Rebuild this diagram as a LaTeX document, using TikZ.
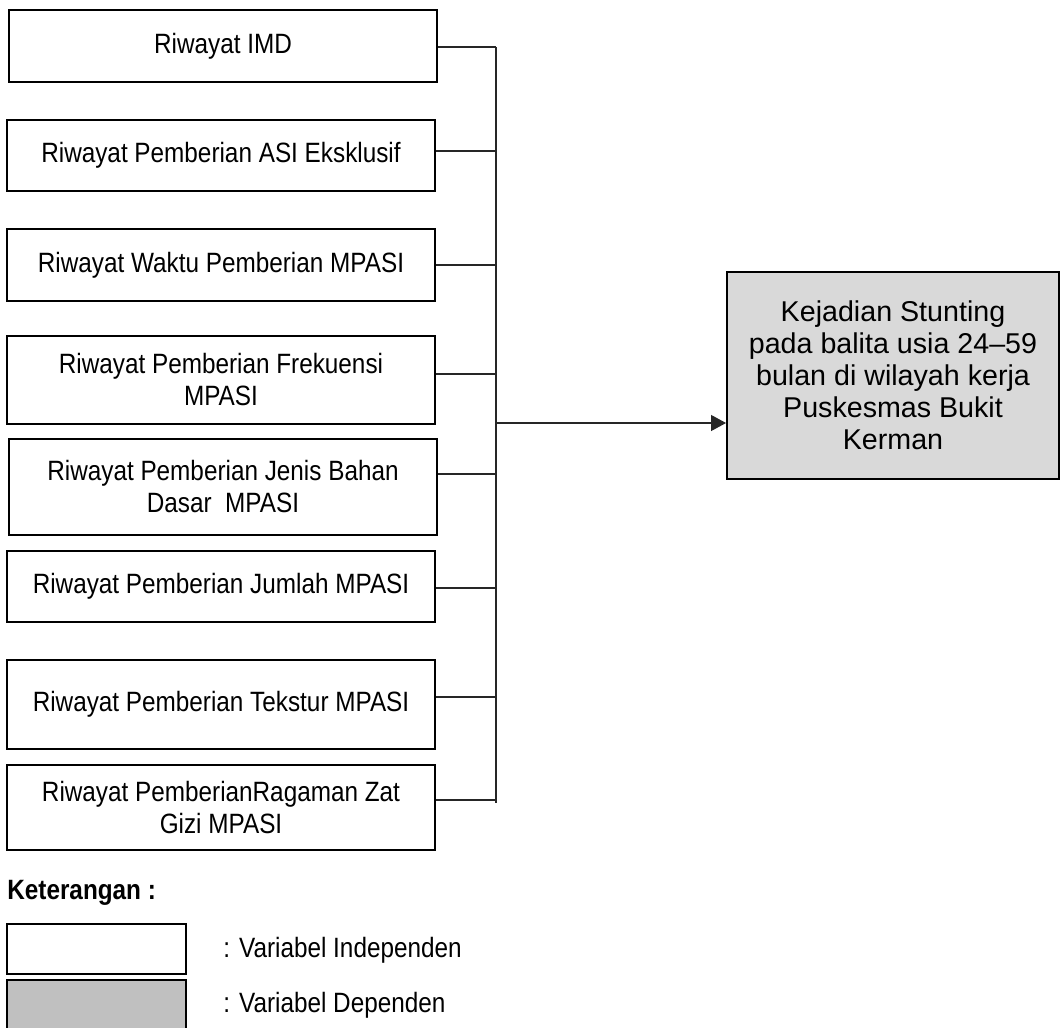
\documentclass[tikz,border=0pt]{standalone}
\usepackage{fontspec}
\setmainfont[FakeStretch=0.87]{Liberation Sans}
\newfontfamily\depfont[Ligatures=TeX]{Liberation Sans}
\usetikzlibrary{arrows.meta}
\definecolor{depgray}{RGB}{217,217,217}
\definecolor{leggray}{RGB}{192,192,192}
\begin{document}
\begin{tikzpicture}[every node/.style={font=\fontsize{15.9}{18.2}\selectfont},
  indep/.style={draw, line width=1.1pt, minimum width=8.56cm, align=center, inner sep=0pt},
  dep/.style={draw, line width=1.1pt, fill=depgray, minimum width=6.64cm, minimum height=4.14cm, align=center, inner sep=0pt, font=\depfont\fontsize{16.3}{18.2}\selectfont},
  link/.style={line width=0.6pt, black!85},
  legbox/.style={draw, line width=1.1pt, minimum width=3.58cm, minimum height=1.0cm, inner sep=0pt}]
\useasboundingbox (0,0) rectangle (21.22,-20.56);
% independent variables
\node[indep, minimum height=1.44cm] (imd) at (4.46,-0.92) {Riwayat IMD};
\node[indep, minimum height=1.42cm] (asi) at (4.42,-3.11) {Riwayat Pemberian ASI Eksklusif};
\node[indep, minimum height=1.44cm] (waktu) at (4.42,-5.30) {Riwayat Waktu Pemberian MPASI};
\node[indep, minimum height=1.76cm] (frek) at (4.42,-7.60) {Riwayat Pemberian Frekuensi\\MPASI};
\node[indep, minimum height=1.92cm] (jenis) at (4.46,-9.74) {Riwayat Pemberian Jenis Bahan\\Dasar\ \ MPASI};
\node[indep, minimum height=1.42cm] (jumlah) at (4.42,-11.73) {Riwayat Pemberian Jumlah MPASI};
\node[indep, minimum height=1.78cm] (tekstur) at (4.42,-14.09) {Riwayat Pemberian Tekstur MPASI};
\node[indep, minimum height=1.70cm] (ragam) at (4.42,-16.15) {Riwayat PemberianRagaman Zat\\Gizi MPASI};
% dependent variable
\node[dep] (stunt) at (17.86,-7.51) {Kejadian Stunting\\pada balita usia 24–59\\bulan di wilayah kerja\\Puskesmas Bukit\\Kerman};
% bus and arrow
\coordinate (bustop) at (9.92,-0.94);
\coordinate (busbot) at (9.92,-16.06);
\coordinate (hub) at (9.92,-8.46);
\draw[link] (bustop) -- (busbot);
\foreach \n/\s in {imd/-0.02, asi/0.09, waktu/0, frek/0.12, jenis/0.26, jumlah/-0.03, tekstur/0.15, ragam/0.15}
  \draw[link] ([yshift=\s cm]\n.east) -- ([yshift=\s cm]\n.east -| bustop);
\draw[link, -{Triangle[length=0.3cm, width=0.32cm]}] (hub) -- (hub -| stunt.west);
% legend
\node[anchor=west, inner sep=0pt, font=\fontsize{15.9}{18.2}\selectfont\bfseries] (ket) at (0.14,-17.86) {Keterangan :};
\node[legbox] (legind) at (1.93,-18.98) {};
\node[legbox, fill=leggray] (legdep) at (1.93,-20.10) {};
\node[anchor=west, inner sep=0pt] (txtind) at (4.46,-19.0) {: Variabel Independen};
\node[anchor=west, inner sep=0pt] (txtdep) at (4.46,-20.10) {: Variabel Dependen};
\end{tikzpicture}
\end{document}
